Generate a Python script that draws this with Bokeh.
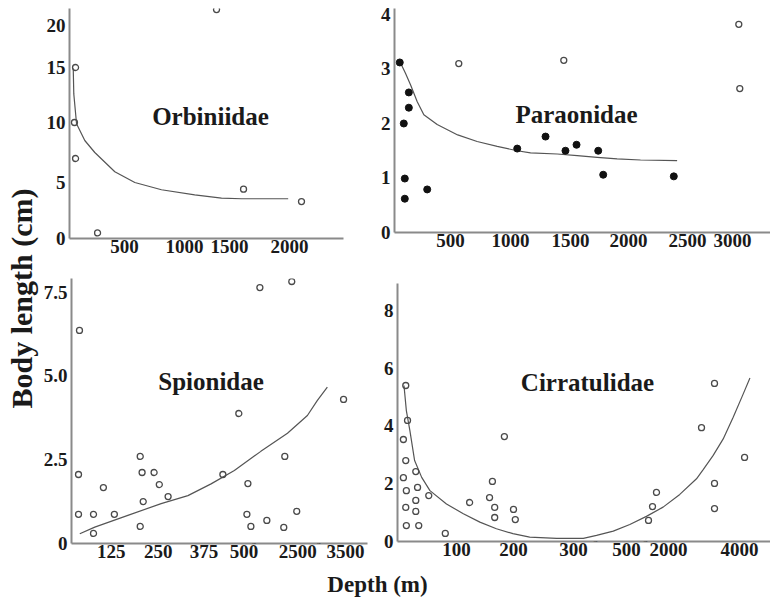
import numpy as np
from bokeh.plotting import figure
from bokeh.layouts import row, column
from bokeh.models import Range1d, FixedTicker, Label
from bokeh.embed import file_html
from bokeh.resources import INLINE

FONT = "Liberation Serif"

# ---------------- data (depth in m, body length in cm) ----------------
# Orbiniidae
orb_depth = [55, 45, 55, 255, 1356, 1617, 2109]
orb_len = [15.0, 10.0, 7.0, 0.5, 21.9, 4.4, 3.3]
orb_fit_depth = [34, 39, 64, 139, 230, 412, 586, 808, 1114, 1411, 1600, 1989]
orb_fit_len = [14.9, 12.6, 9.9, 8.5, 7.5, 5.9, 5.0, 4.35, 3.9, 3.6, 3.55, 3.55]

# Paraonidae
par_fill_depth = [47, 128, 128, 83, 92, 92, 292, 1056, 1292, 1458, 1552, 1739, 1782, 2384]
par_fill_len = [3.12, 2.57, 2.29, 2.0, 0.99, 0.62, 0.79, 1.54, 1.76, 1.50, 1.61, 1.50, 1.06, 1.03]
par_open_depth = [569, 1444, 3070, 3081]
par_open_len = [3.10, 3.16, 3.82, 2.64]
par_fit_depth = [54, 98, 143, 203, 262, 381, 560, 722, 889, 1056, 1167, 1389, 1558, 1730, 1902, 2102, 2412]
par_fit_len = [3.11, 2.92, 2.71, 2.40, 2.16, 1.98, 1.79, 1.67, 1.58, 1.50, 1.46, 1.44, 1.41, 1.38, 1.35, 1.33, 1.32]

# Spionidae
spi_depth = [25, 22, 22, 69, 69, 100, 133, 202, 207, 239, 210, 202, 253, 277, 434, 484,
             648, 611, 759, 1093, 1352, 2278, 2019, 1981, 2463, 3458]
spi_len = [6.36, 2.06, 0.87, 0.87, 0.30, 1.67, 0.87, 2.6, 2.12, 2.12, 1.25, 0.51, 1.76, 1.40, 2.06, 3.88,
           1.79, 0.87, 0.51, 7.64, 0.69, 7.82, 2.6, 0.48, 0.96, 4.3]
spi_fit_depth = [26, 73, 169, 258, 331, 397, 470, 1129, 2119, 2702, 2911, 3119]
spi_fit_len = [0.29, 0.49, 0.84, 1.19, 1.43, 1.78, 2.18, 2.75, 3.29, 3.82, 4.27, 4.67]

# Cirratulidae
cir_depth = [14, 17, 10, 14, 31, 10, 34, 15, 53, 31, 14, 31, 15, 36, 81, 123, 163, 158, 167, 167,
             184, 200, 203, 1286, 1429, 1571, 2930, 3296, 3296, 3296, 4141]
cir_len = [5.40, 4.19, 3.53, 2.80, 2.42, 2.21, 1.87, 1.76, 1.59, 1.42, 1.18, 1.04, 0.55, 0.55, 0.28, 1.35,
           2.08, 1.52, 1.18, 0.83, 3.63, 1.11, 0.76, 0.73, 1.21, 1.70, 3.94, 5.47, 2.01, 1.14, 2.91]
cir_fit_depth = [11, 15, 21, 29, 41, 55, 83, 112, 141, 170, 199, 227, 272, 337, 387, 450, 618,
                 1211, 1807, 2318, 2789, 2977, 3259, 3541, 3822, 4104, 4290]
cir_fit_len = [5.40, 4.53, 3.84, 2.80, 2.22, 1.76, 1.30, 0.96, 0.67, 0.44, 0.27, 0.15, 0.11, 0.11, 0.21,
               0.36, 0.59, 0.87, 1.19, 1.63, 2.17, 2.49, 2.98, 3.55, 4.30, 5.11, 5.66]

# ---------------- axis definitions (hand-drawn / broken axes: value knots -> axis position knots) ----------------
orb_knot_depth = [0, 500, 1000, 1500, 2000, 2500]
orb_knot_pos = [0, 55, 115, 160, 220, 275]
orb_xticks = [500, 1000, 1500, 2000]
orb_knot_len = [0, 5, 10, 15, 20, 25]
orb_knot_lpos = [0, 56, 116, 171, 213, 255]
orb_yticks = [0, 5, 10, 15, 20]

par_knot_depth = [0, 500, 1000, 1500, 2000, 2500, 3000, 3500]
par_knot_pos = [0, 56, 116, 176, 234, 293, 338, 383]
par_xticks = [500, 1000, 1500, 2000, 2500, 3000]
par_yticks = [0, 1, 2, 3, 4]

spi_knot_depth = [0, 125, 250, 375, 500, 2500, 3500, 4000]
spi_knot_pos = [0, 40, 87, 133, 173, 227, 275, 299]
spi_xticks = [125, 250, 375, 500, 2500, 3500]
spi_breaks = [870, 2937]
spi_yticks = [0, 2.5, 5, 7.5]
spi_ylabels = ["0", "2.5", "5.0", "7.5"]

cir_knot_depth = [0, 100, 200, 300, 500, 2000, 4000, 5000]
cir_knot_pos = [0, 59, 116, 176, 229, 271, 342, 378]
cir_xticks = [100, 200, 300, 500, 2000, 4000]
cir_breaks = [383, 1179]
cir_yticks = [0, 2, 4, 6, 8]


def to_pos(vals, kd, kp):
    return np.interp(np.asarray(vals, dtype=float), kd, kp)


AX_COLOR = "#8a8a8a"
TXT = "#1a1a1a"
PT = "#4a4a4a"
LINE = "#555555"


def panel(width, height, borders, xr, yr, xticks, xlabels, yticks, ylabels):
    l, r, t, b = borders
    p = figure(width=width, height=height, x_range=Range1d(*xr), y_range=Range1d(*yr),
               toolbar_location=None, output_backend="svg", frame_align=False,
               min_border_left=l, min_border_right=r, min_border_top=t, min_border_bottom=b,
               outline_line_color=None, background_fill_color="white", border_fill_color="white")
    p.grid.visible = False
    for ax in (p.xaxis[0], p.yaxis[0]):
        ax.axis_line_color = AX_COLOR
        ax.axis_line_width = 2
        ax.major_tick_line_color = None
        ax.minor_tick_line_color = None
        ax.major_tick_out = 0
        ax.major_tick_in = 0
        ax.major_label_text_font = FONT
        ax.major_label_text_font_style = "bold"
        ax.major_label_text_font_size = "19px"
        ax.major_label_text_color = TXT
    p.xaxis[0].major_label_standoff = 1
    p.yaxis[0].major_label_standoff = 4
    p.xaxis[0].ticker = FixedTicker(ticks=[float(v) for v in xticks])
    p.yaxis[0].ticker = FixedTicker(ticks=[float(v) for v in yticks])
    p.xaxis[0].major_label_overrides = {float(v): s for v, s in zip(xticks, xlabels)}
    p.yaxis[0].major_label_overrides = {float(v): s for v, s in zip(yticks, ylabels)}
    return p


def title(p, x, y, text):
    p.add_layout(Label(x=x, y=y, text=text, text_font=FONT, text_font_style="bold",
                       text_font_size="25px", text_color=TXT, text_align="center",
                       text_baseline="middle"))


def breaks(p, xs):
    for x in xs:
        p.add_layout(Label(x=x, y=0, text="z", text_font=FONT, text_font_style="bold italic",
                           text_font_size="11px", text_color="#333333", text_align="center",
                           text_baseline="middle"))


def open_pts(p, x, y):
    p.scatter(x, y, size=6, marker="circle", fill_color=None, line_color=PT, line_width=1.3)


# ---- Orbiniidae ----
ox = lambda d: to_pos(d, orb_knot_depth, orb_knot_pos)
oy = lambda v: to_pos(v, orb_knot_len, orb_knot_lpos)
p1 = panel(326, 266, (29, 23, 8, 28), (0, 274), (0, 230),
           list(ox(orb_xticks)), [str(v) for v in orb_xticks],
           list(oy(orb_yticks)), [str(v) for v in orb_yticks])
p1.line(ox(orb_fit_depth), oy(orb_fit_len), line_color=LINE, line_width=1.2)
open_pts(p1, ox(orb_depth), oy(orb_len))
title(p1, 141, 122, "Orbiniidae")

# ---- Paraonidae ----
p2 = panel(404, 266, (28, 0, 8, 34), (0, 376), (0, 4.11),
           list(to_pos(par_xticks, par_knot_depth, par_knot_pos)), [str(v) for v in par_xticks],
           par_yticks, [str(v) for v in par_yticks])
p2.line(to_pos(par_fit_depth, par_knot_depth, par_knot_pos), par_fit_len, line_color=LINE, line_width=1.2)
p2.scatter(to_pos(par_fill_depth, par_knot_depth, par_knot_pos), par_fill_len, size=7,
           marker="circle", fill_color="#111111", line_color="#111111")
open_pts(p2, to_pos(par_open_depth, par_knot_depth, par_knot_pos), par_open_len)
title(p2, 182, 2.17, "Paraonidae")

# ---- Spionidae ----
p3 = panel(328, 305, (30, 1, 12, 28), (0, 297), (0, 7.91),
           list(to_pos(spi_xticks, spi_knot_depth, spi_knot_pos)), [str(v) for v in spi_xticks],
           spi_yticks, spi_ylabels)
p3.line(to_pos(spi_fit_depth, spi_knot_depth, spi_knot_pos), spi_fit_len, line_color=LINE, line_width=1.2)
open_pts(p3, to_pos(spi_depth, spi_knot_depth, spi_knot_pos), spi_len)
breaks(p3, list(to_pos(spi_breaks, spi_knot_depth, spi_knot_pos)))
title(p3, 140, 4.84, "Spionidae")

# ---- Cirratulidae ----
p4 = panel(402, 305, (29, 0, 17, 30), (0, 373), (0, 8.93),
           list(to_pos(cir_xticks, cir_knot_depth, cir_knot_pos)), [str(v) for v in cir_xticks],
           cir_yticks, [str(v) for v in cir_yticks])
p4.line(to_pos(cir_fit_depth, cir_knot_depth, cir_knot_pos), cir_fit_len, line_color=LINE, line_width=1.2)
open_pts(p4, to_pos(cir_depth, cir_knot_depth, cir_knot_pos), cir_len)
breaks(p4, list(to_pos(cir_breaks, cir_knot_depth, cir_knot_pos)))
title(p4, 190, 5.5, "Cirratulidae")

# ---- shared axis titles ----
ylab = figure(width=40, height=598, x_range=Range1d(0, 40), y_range=Range1d(0, 598),
              x_axis_type=None, y_axis_type=None, toolbar_location=None, output_backend="svg",
              min_border=0, outline_line_color=None, frame_align=False)
ylab.add_layout(Label(x=21, y=300, text="Body length (cm)", angle=np.pi / 2, text_font=FONT,
                      text_font_style="bold", text_font_size="30px", text_color=TXT,
                      text_align="center", text_baseline="middle"))

xlab = figure(width=730, height=27, x_range=Range1d(0, 730), y_range=Range1d(0, 27),
              x_axis_type=None, y_axis_type=None, toolbar_location=None, output_backend="svg",
              min_border=0, outline_line_color=None, frame_align=False)
xlab.add_layout(Label(x=337, y=14, text="Depth (m)", text_font=FONT, text_font_style="bold",
                      text_font_size="23px", text_color=TXT, text_align="center",
                      text_baseline="middle"))

layout = row(ylab, column(row(p1, p2), row(p3, p4), xlab))

open("out.html", "w").write(file_html(layout, INLINE))
